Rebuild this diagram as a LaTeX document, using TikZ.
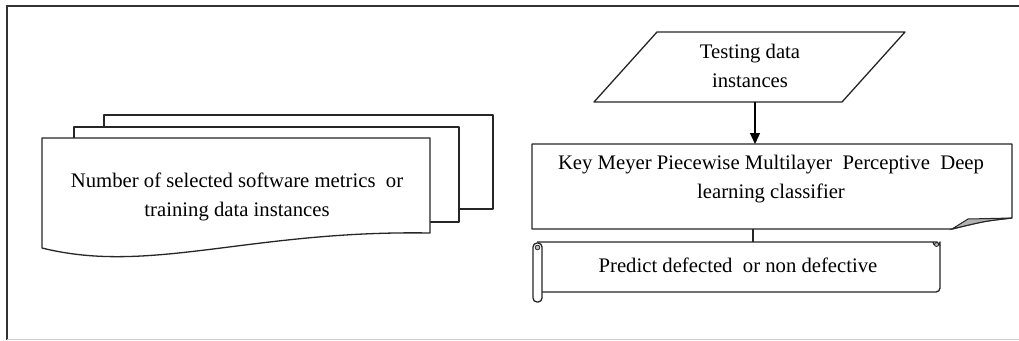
\documentclass[tikz,border=0pt]{standalone}
\usepackage{fontspec}
\setmainfont{Liberation Serif}
\usetikzlibrary{arrows.meta}
\begin{document}
\begin{tikzpicture}[x=1pt,y=-1pt,
  shapeline/.style={draw=black!85, line width=1.3pt, line join=round},
  label/.style={font=\fontsize{20.7}{28.5}\selectfont, align=center, inner sep=0pt},
  frameline/.style={draw=black!80, line width=2.2pt}]
\useasboundingbox (0,0) rectangle (1019,340);

% outer frame
\draw[frameline] (7,340) -- (7,6) -- (1019,6);
\draw[draw=black!20, line width=1pt] (7,339.5) -- (1019,339.5);

% stacked documents: training input
\draw[shapeline, fill=white] (104,115) rectangle (493,209);
\draw[shapeline, fill=white] (74,127) rectangle (459,222);
\draw[shapeline, fill=white] (42,138) -- (430,138) -- (430,233)
  .. controls (250,230) and (150,275) .. (42,248) -- cycle;
\node[label] (train) at (237,197) {Number of selected software metrics \ or\\training data instances};

% testing data input (parallelogram)
\draw[shapeline] (657,32) -- (905,32) -- (842,102) -- (594,102) -- cycle;
\node[label] (test) at (750,66) {Testing data\\instances};
\coordinate (testbot) at (755,102);

% classifier box with curled corner
\draw[shapeline, fill=white] (532,144) -- (1012,144) -- (1012,218)
  .. controls (985,221) .. (952,229) -- (532,229) -- cycle;
\draw[draw=black!85, line width=1pt, fill=black!30] (952,229) -- (968,219) -- (1012,218)
  .. controls (985,221) .. (952,229) -- cycle;
\node[label] (clf) at (771,179) {Key Meyer Piecewise Multilayer \ Perceptive \ Deep\\learning classifier};
\coordinate (clftop) at (755,144);
\coordinate (clfbot) at (753,229);

% output scroll
\draw[shapeline, fill=white] (537,242) -- (937,242) -- (940,246) -- (940,288)
  arc[start angle=0, end angle=90, radius=4] -- (542,292);
\draw[shapeline, fill=white] (933,242) arc[start angle=180, end angle=0, radius=3.5] -- (940,246);
\draw[draw=black!85, line width=0.8pt, fill=black!25] (936.5,244.5) circle[radius=2];
\draw[shapeline, fill=white, rounded corners=4pt] (533,243) rectangle (542,302);
\draw[draw=black!85, line width=0.8pt, fill=black!25] (537.5,247.5) circle[radius=2.3];
\node[label] (pred) at (738,265) {Predict defected \ or non defective};
\coordinate (predtop) at (753,242);

% connectors
\draw[draw=black, line width=1.3pt, -{Triangle[length=11pt,width=10pt]}] (testbot) -- (clftop);
\draw[draw=black!85, line width=1.3pt] (clfbot) -- (predtop);
\end{tikzpicture}
\end{document}
